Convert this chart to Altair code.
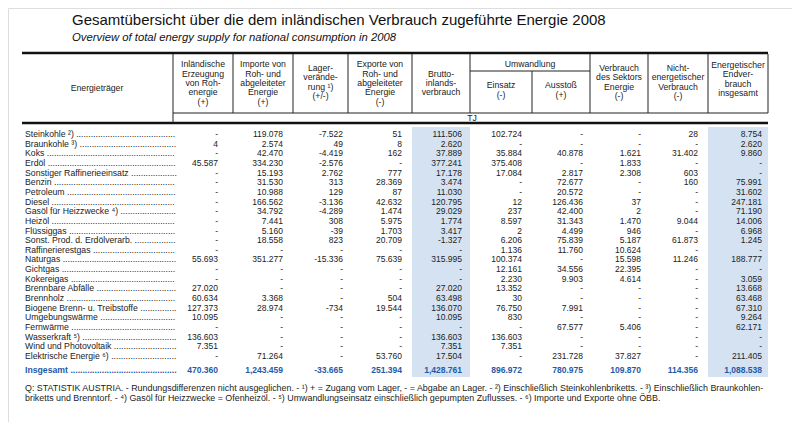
import altair as alt
import pandas as pd

title = "Gesamtübersicht über die dem inländischen Verbrauch zugeführte Energie 2008"
subtitle = "Overview of total energy supply for national consumption in 2008"

carriers = [
    "Steinkohle ²)", "Braunkohle ³)", "Koks", "Erdöl", "Sonstiger Raffinerieeinsatz",
    "Benzin", "Petroleum", "Diesel", "Gasöl für Heizzwecke ⁴)", "Heizöl", "Flüssiggas",
    "Sonst. Prod. d. Erdölverarb.", "Raffinerierestgas", "Naturgas", "Gichtgas",
    "Kokereigas", "Brennbare Abfälle", "Brennholz", "Biogene Brenn- u. Treibstoffe",
    "Umgebungswärme", "Fernwärme", "Wasserkraft ⁵)", "Wind und Photovoltaik",
    "Elektrische Energie ⁶)",
]
erzeugung = ["-", "4", "-", "45.587", "-", "-", "-", "-", "-", "-", "-", "-", "-", "55.693",
             "-", "-", "27.020", "60.634", "127.373", "10.095", "-", "136.603", "7.351", "-"]
importe = ["119.078", "2.574", "42.470", "334.230", "15.193", "31.530", "10.988", "166.562",
           "34.792", "7.441", "5.160", "18.558", "-", "351.277", "-", "-", "-", "3.368",
           "28.974", "-", "-", "-", "-", "71.264"]
lager = ["-7.522", "49", "-4.419", "-2.576", "2.762", "313", "129", "-3.136", "-4.289", "308",
         "-39", "823", "-", "-15.336", "-", "-", "-", "-", "-734", "-", "-", "-", "-", "-"]
exporte = ["51", "8", "162", "-", "777", "28.369", "87", "42.632", "1.474", "5.975", "1.703",
           "20.709", "-", "75.639", "-", "-", "-", "504", "19.544", "-", "-", "-", "-", "53.760"]
brutto = ["111.506", "2.620", "37.889", "377.241", "17.178", "3.474", "11.030", "120.795",
          "29.029", "1.774", "3.417", "-1.327", "-", "315.995", "-", "-", "27.020", "63.498",
          "136.070", "10.095", "-", "136.603", "7.351", "17.504"]
einsatz = ["102.724", "-", "35.884", "375.408", "17.084", "-", "-", "12", "237", "8.597", "2",
           "6.206", "1.136", "100.374", "12.161", "2.230", "13.352", "30", "76.750", "830", "-",
           "136.603", "7.351", "-"]
ausstoss = ["-", "-", "40.878", "-", "2.817", "72.677", "20.572", "126.436", "42.400", "31.343",
            "4.499", "75.839", "11.760", "-", "34.556", "9.903", "-", "-", "7.991", "-", "67.577",
            "-", "-", "231.728"]
sektor = ["-", "-", "1.621", "1.833", "2.308", "-", "-", "37", "2", "1.470", "946", "5.187",
          "10.624", "15.598", "22.395", "4.614", "-", "-", "-", "-", "5.406", "-", "-", "37.827"]
nichtenerg = ["28", "-", "31.402", "-", "603", "160", "-", "-", "-", "9.044", "-", "61.873", "-",
              "11.246", "-", "-", "-", "-", "-", "-", "-", "-", "-", "-"]
endverbrauch = ["8.754", "2.620", "9.860", "-", "-", "75.991", "31.602", "247.181", "71.190",
                "14.006", "6.968", "1.245", "-", "188.777", "-", "3.059", "13.668", "63.468",
                "67.310", "9.264", "62.171", "-", "-", "211.405"]
total_label = "Insgesamt"
totals = ["470.360", "1,243.459", "-33.665", "251.394", "1,428.761", "896.972", "780.975",
          "109.870", "114.356", "1,088.538"]

header_label = "Energieträger"
headers = [
    ["Inländische", "Erzeugung", "von Roh-", "energie", "(+)"],
    ["Importe von", "Roh- und", "abgeleiteter", "Energie", "(+)"],
    ["Lager-", "verände-", "rung ¹)", "(+/-)"],
    ["Exporte von", "Roh- und", "abgeleiteter", "Energie", "(-)"],
    ["Brutto-", "inlands-", "verbrauch"],
    ["Einsatz", "(-)"],
    ["Ausstoß", "(+)"],
    ["Verbrauch", "des Sektors", "Energie", "(-)"],
    ["Nicht-", "energetischer", "Verbrauch", "(-)"],
    ["Energetischer", "Endver-", "brauch", "insgesamt"],
]
group_header = "Umwandlung"
unit = "TJ"
footer = [
    "Q: STATISTIK AUSTRIA. - Rundungsdifferenzen nicht ausgeglichen. - ¹) + = Zugang vom Lager, - = Abgabe an Lager. - ²) Einschließlich Steinkohlenbriketts. - ³) Einschließlich Braunkohlen-",
    "briketts und Brenntorf. - ⁴) Gasöl für Heizzwecke = Ofenheizöl. - ⁵) Umwandlungseinsatz einschließlich gepumpten Zuflusses. - ⁶) Importe und Exporte ohne ÖBB.",
]

# ---------------- layout (page pixel space) ----------------
W, H = 784, 414
FONT = "Liberation Sans"
col_right = [218, 283, 343, 402, 462, 522, 583, 641, 698, 762]
col_edges = [173, 233, 293, 348, 412, 470, 532, 590, 648, 708, 768]
row_top, row_step, total_y = 134, 9.65, 370
header_mid = [83, 83, 82, 83, 83, 90, 90, 82, 82, 79]
line_h = 9.4

xs = alt.Scale(domain=[8, 8 + W], nice=False, zero=False)
ys = alt.Scale(domain=[8, 8 + H], nice=False, zero=False, reverse=True)


def X(f="x"):
    return alt.X(f"{f}:Q", scale=xs, axis=None)


def Y(f="y"):
    return alt.Y(f"{f}:Q", scale=ys, axis=None)


columns = [erzeugung, importe, lager, exporte, brutto, einsatz, ausstoss, sektor,
           nichtenerg, endverbrauch]

cells = []
for j, col in enumerate(columns):
    for i, v in enumerate(col):
        cells.append({"x": col_right[j], "y": row_top + i * row_step, "t": v})
cells_df = pd.DataFrame(cells)

tot_df = pd.DataFrame({"x": col_right, "y": [total_y] * len(totals), "t": totals})

lab_df = pd.DataFrame({"x": [25] * len(carriers),
                       "y": [row_top + i * row_step for i in range(len(carriers))],
                       "t": [c + " " + "." * 120 for c in carriers]})
totlab_df = pd.DataFrame({"x": [25], "y": [total_y], "t": [total_label + " " + "." * 120]})

hdr = []
for j, lines in enumerate(headers):
    cx = (col_edges[j] + col_edges[j + 1]) / 2
    n = len(lines)
    for k, s in enumerate(lines):
        hdr.append({"x": cx, "y": header_mid[j] + (k - (n - 1) / 2) * line_h, "t": s})
hdr.append({"x": 97, "y": 88, "t": header_label})
hdr.append({"x": (col_edges[5] + col_edges[7]) / 2, "y": 64, "t": group_header})
hdr.append({"x": 472, "y": 118, "t": unit})
hdr_df = pd.DataFrame(hdr)

title_df = pd.DataFrame({"x": [72], "y": [20], "t": [title]})
sub_df = pd.DataFrame({"x": [72], "y": [38], "t": [subtitle]})
foot_df = pd.DataFrame({"x": [25, 25], "y": [388, 398], "t": footer})

hl_df = pd.DataFrame({"x": [col_edges[4], col_edges[9]], "x2": [col_edges[5], col_edges[10]],
                      "y": [127, 127], "y2": [377, 377]})

thick_df = pd.DataFrame({"x": [22, 22], "x2": [768, 768], "y": [53, 123], "y2": [53, 123]})
thin = [{"x": 173, "x2": 768, "y": 113, "y2": 113},
        {"x": 470, "x2": 590, "y": 71, "y2": 71},
        {"x": 532, "x2": 532, "y": 71, "y2": 113},
        {"x": 173, "x2": 173, "y": 54, "y2": 123}]
for e in col_edges[1:]:
    if e != 532:
        thin.append({"x": e, "x2": e, "y": 54, "y2": 113})
thin_df = pd.DataFrame(thin)

hl = alt.Chart(hl_df).mark_rect(color="#d5e2f2").encode(x=X(), x2="x2", y=Y(), y2="y2")
thick = alt.Chart(thick_df).mark_rule(color="#111", strokeWidth=2.5).encode(
    x=X(), x2="x2", y=Y(), y2="y2")
thinr = alt.Chart(thin_df).mark_rule(color="#222", strokeWidth=1).encode(
    x=X(), x2="x2", y=Y(), y2="y2")

title_t = alt.Chart(title_df).mark_text(align="left", baseline="middle", font=FONT,
                                        fontSize=15, color="#111").encode(x=X(), y=Y(), text="t:N")
sub_t = alt.Chart(sub_df).mark_text(align="left", baseline="middle", font=FONT, fontSize=11.3,
                                    fontStyle="italic", color="#111").encode(x=X(), y=Y(), text="t:N")
hdr_t = alt.Chart(hdr_df).mark_text(align="center", baseline="middle", font=FONT, fontSize=8.7,
                                    color="#222").encode(x=X(), y=Y(), text="t:N")
lab_t = alt.Chart(lab_df).mark_text(align="left", baseline="middle", font=FONT, fontSize=8.7,
                                    color="#222", limit=152, ellipsis=".").encode(
    x=X(), y=Y(), text="t:N")
totlab_t = alt.Chart(totlab_df).mark_text(align="left", baseline="middle", font=FONT,
                                          fontSize=8.7, fontWeight="bold", color="#1f5aa8",
                                          limit=152, ellipsis=".").encode(x=X(), y=Y(), text="t:N")
cell_t = alt.Chart(cells_df).mark_text(align="right", baseline="middle", font=FONT, fontSize=8.5,
                                       color="#222").encode(x=X(), y=Y(), text="t:N")
tot_t = alt.Chart(tot_df).mark_text(align="right", baseline="middle", font=FONT, fontSize=8.5,
                                    fontWeight="bold", color="#1f5aa8").encode(
    x=X(), y=Y(), text="t:N")
foot_t = alt.Chart(foot_df).mark_text(align="left", baseline="middle", font=FONT, fontSize=8.9,
                                      color="#222").encode(x=X(), y=Y(), text="t:N")

chart = alt.layer(hl, thick, thinr, title_t, sub_t, hdr_t, lab_t, totlab_t, cell_t, tot_t,
                  foot_t).properties(
    width=W, height=H, padding=0, autosize=alt.AutoSizeParams(type="none")
).configure_view(stroke="transparent").configure(background="white")

chart.save("out.html", embed_options={"renderer": "svg", "actions": False})
